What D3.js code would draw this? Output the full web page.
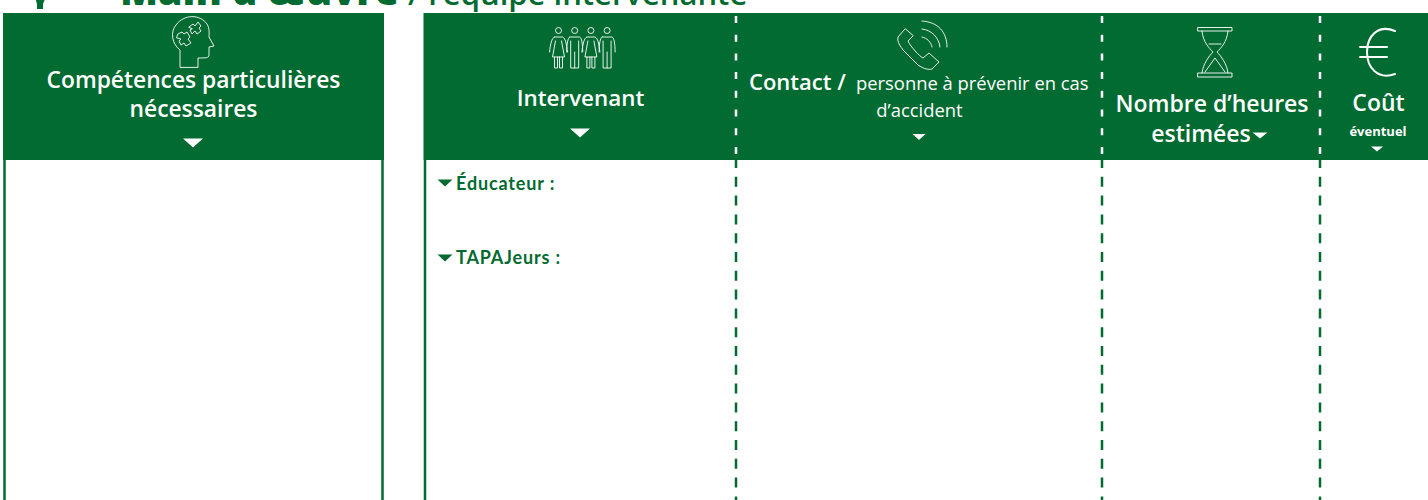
<!DOCTYPE html>
<html>
<head>
<meta charset="utf-8">
<script src="https://cdnjs.cloudflare.com/ajax/libs/d3/7.8.5/d3.min.js"></script>
<style>
html, body { margin: 0; padding: 0; background: #fff; overflow: hidden; }
svg { display: block; }
text { font-family: "Open Sans", sans-serif; }
</style>
</head>
<body>
<svg id="svg" width="1428" height="500"></svg>
<script>
// texts of the form
var titleBold = "Main d’œuvre";
var titleRest = "/ l’équipe intervenante";
var leftHeader = ["Compétences particulières", "nécessaires"];
var intervenantHeader = "Intervenant";
var contactBold = "Contact /";
var contactRest = ["personne à prévenir en cas", "d’accident"];
var heuresHeader = ["Nombre d’heures", "estimées"];
var coutHeader = "Coût";
var coutSub = "éventuel";
var rowLabels = ["Éducateur :", "TAPAJeurs :"];

var green = "#026B31";
var svg = d3.select("#svg");

// page layout
var headTop = 13, headBottom = 160, pageBottom = 500;
var leftX = [4.5, 382.5], rightX = [425, 1428];
var dividers = [736, 1102, 1320];

function tri(cx, cy, w, h, color) {
    var p = d3.path();
    p.moveTo(cx - w / 2, cy - h / 2);
    p.lineTo(cx + w / 2, cy - h / 2);
    p.lineTo(cx, cy + h / 2);
    p.closePath();
    svg.append("path").attr("d", p.toString()).attr("fill", color);
}

function label(x, y, str, size, weight, color, anchor) {
    return svg.append("text")
        .attr("x", x).attr("y", y)
        .attr("font-size", size)
        .attr("font-weight", weight)
        .attr("fill", color)
        .attr("text-anchor", anchor || "middle")
        .text(str);
}

//////////////////////////////////////////////////////////////
// title, cut off by the top of the page

label(120, 4.5, titleBold, 39.4, 800, green, "start");
label(408, 4.5, titleRest, 31, 600, green, "start");
svg.append("path")
    .attr("d", "M34 -6 L47 -6 L43 4 L43 9 L37 9 L37 4 Z")
    .attr("fill", green);

//////////////////////////////////////////////////////////////
// panels

[leftX, rightX].forEach(function(x) {
    svg.append("rect")
        .attr("x", x[0] - 1.5).attr("y", headTop)
        .attr("width", x[1] - x[0] + 3).attr("height", headBottom - headTop)
        .attr("fill", green);
    x.forEach(function(v) {
        if (v < 1428) {
            svg.append("line")
                .attr("x1", v).attr("x2", v)
                .attr("y1", headBottom).attr("y2", pageBottom)
                .attr("stroke", green).attr("stroke-width", 2.5);
        }
    });
});

dividers.forEach(function(x) {
    svg.append("line")
        .attr("x1", x).attr("x2", x)
        .attr("y1", 16).attr("y2", headBottom - 1)
        .attr("stroke", "#fff").attr("stroke-width", 2.5)
        .attr("stroke-dasharray", "7 11.7");
    svg.append("line")
        .attr("x1", x).attr("x2", x)
        .attr("y1", 158).attr("y2", pageBottom)
        .attr("stroke", green).attr("stroke-width", 2.5)
        .attr("stroke-dasharray", "10 8.8");
});

//////////////////////////////////////////////////////////////
// header texts

label(193.5, 88, leftHeader[0], 22.8, 600, "#fff");
label(193.5, 117, leftHeader[1], 22.8, 600, "#fff");
tri(193, 143, 20, 9, "#fff");

label(580.5, 106, intervenantHeader, 22.4, 600, "#fff");
tri(580, 133, 20, 9, "#fff");

label(749, 90, contactBold, 22, 600, "#fff", "start");
label(856, 90, contactRest[0], 18.4, 400, "#fff", "start");
label(919.5, 117, contactRest[1], 18.4, 400, "#fff");
tri(919, 137, 13, 6, "#fff");

label(1212, 112, heuresHeader[0], 23, 600, "#fff");
label(1201, 142, heuresHeader[1], 23, 600, "#fff");
tri(1260, 135.5, 15, 6, "#fff");

label(1378.5, 111, coutHeader, 23, 600, "#fff");
label(1378, 136, coutSub, 13, 700, "#fff");
tri(1377, 149, 12, 5, "#fff");

//////////////////////////////////////////////////////////////
// row labels

rowLabels.forEach(function(d, i) {
    var y = i == 0 ? 190 : 264;
    tri(445, i == 0 ? 183 : 258, 15, 7, green);
    label(456, y, d, 18, 700, green, "start")
        .style("font-family", "Lato")
        .style("letter-spacing", "0.85px");
});

//////////////////////////////////////////////////////////////
// icons, thin white outlines

function icon(d, w) {
    return svg.append("path")
        .attr("d", d)
        .attr("fill", "none")
        .attr("stroke", "#fff")
        .attr("stroke-width", w || 0.9)
        .attr("stroke-linejoin", "round")
        .attr("stroke-linecap", "round");
}

// head with puzzle pieces
icon("M180 67 L180 50 C172 44 170 32 176 25 C184 14 200 14 207 24 C210 29 209 34 209 37 L214 46 L209 47 L209 55 C209 58 206 58 198 58 L198 67 Z");
icon("M178 34 L182 32 L184 34 L187 32 L190 37 L188 39 L191 43 L186 46 L184 43 L181 45 L179 41 L181 39 L177 38 Z");
icon("M189 27 L193 24 L195 26 L198 22 L201 26 L199 28 L201 31 L197 34 L195 31 L192 34 L190 30 L192 29 Z");

// four people, woman / man alternating
[0, 1, 2, 3].forEach(function(i) {
    var cx = 558.5 + i * 16.2;
    svg.append("circle").attr("cx", cx).attr("cy", 30.5).attr("r", 3)
        .attr("fill", "none").attr("stroke", "#fff").attr("stroke-width", 0.9);
    if (i % 2 == 0) {
        icon("M" + (cx - 4) + " 37 L" + (cx + 4) + " 37 C" + (cx + 7) + " 38 " + (cx + 8) + " 44 " + (cx + 9) + " 52 M" + (cx - 4) + " 37 C" + (cx - 7) + " 38 " + (cx - 8) + " 44 " + (cx - 9) + " 52");
        icon("M" + (cx - 3) + " 41 L" + (cx - 6) + " 57 L" + (cx + 6) + " 57 L" + (cx + 3) + " 41");
        icon("M" + (cx - 4) + " 57 L" + (cx - 4) + " 68 L" + (cx - 1) + " 68 L" + (cx - 1) + " 57 M" + (cx + 1) + " 57 L" + (cx + 1) + " 68 L" + (cx + 4) + " 68 L" + (cx + 4) + " 57");
    } else {
        icon("M" + (cx - 5) + " 37 L" + (cx + 5) + " 37 C" + (cx + 7) + " 38 " + (cx + 8) + " 44 " + (cx + 8) + " 52 M" + (cx - 5) + " 37 C" + (cx - 7) + " 38 " + (cx - 8) + " 44 " + (cx - 8) + " 52");
        icon("M" + (cx - 4) + " 41 L" + (cx - 4) + " 68 L" + (cx + 4) + " 68 L" + (cx + 4) + " 41 M" + cx + " 52 L" + cx + " 68");
    }
});

// phone and waves
icon("M905 29 L898 37 C897 42 900 46 904 51 L918 65 C924 69 929 70 932 69 L939 62 L929 53 L923 58 C919 56 911 47 908 41 L913 36 Z");
icon("M922 37 C927 38 931 42 932 47");
icon("M922 29 C932 30 939 38 940 47");
icon("M922 21 C938 22 947 32 947 47");

// hourglass
icon("M1198 27.5 L1232 27.5 L1232 31 L1198 31 Z");
icon("M1198 73 L1232 73 L1232 77 L1198 77 Z");
icon("M1202 31 C1203 42 1209 48 1213 52 C1209 56 1203 64 1202 73");
icon("M1228 31 C1227 42 1221 48 1217 52 C1221 56 1227 64 1228 73");
icon("M1209 44 L1221 44 M1205 72 L1215 58 L1225 72");

// euro sign
icon("M1395 31 C1378 24 1367 36 1367 52 C1367 68 1378 80 1395 74", 2);
icon("M1360 47 L1387 47 M1360 57 L1387 57", 2);
</script>
</body>
</html>
